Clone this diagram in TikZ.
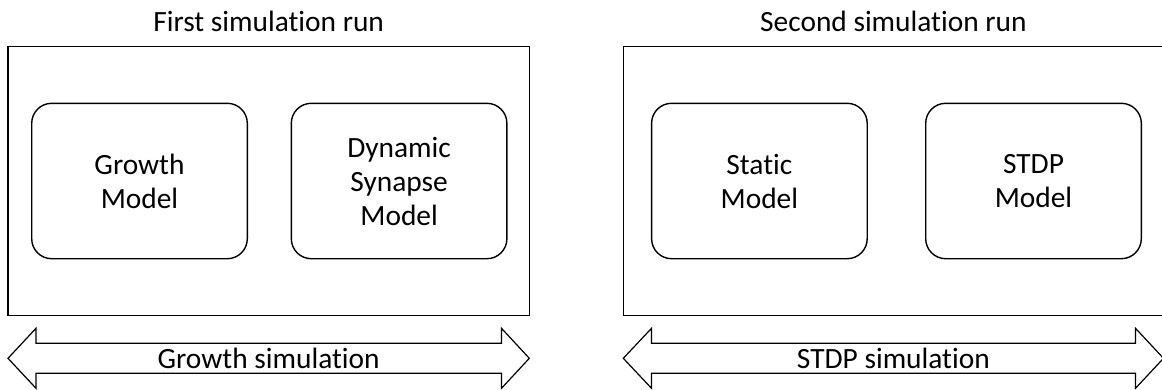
\documentclass[tikz,border=0pt]{standalone}
\usepackage{fontspec}
\setmainfont{Carlito}[Ligatures={NoCommon,NoContextual}]
\begin{document}
\begin{tikzpicture}[x=1pt,y=-1pt,
  every node/.style={font=\fontsize{29.4pt}{34pt}\selectfont, inner sep=0pt, outer sep=0pt},
  runframe/.style={draw, line width=1.1pt, rectangle},
  modelbox/.style={draw, line width=1.4pt, rounded corners=20pt, align=center,
                   minimum width=215.6pt, minimum height=155.4pt},
  spanarrow/.style={draw, line width=1.2pt, line join=miter},
  caption/.style={anchor=base}]
\useasboundingbox (0,0) rectangle (1162,389);

% simulation run frames
\node[runframe, minimum width=521.3pt, minimum height=268.6pt] (runA) at (268.65,181) {};
\node[runframe, minimum width=540.2pt, minimum height=268.6pt] (runB) at (893.4,181) {};

% titles above the frames
\node[caption] (titleA) at (268.65,31.7) {First simulation run};
\node[caption] (titleB) at (893.4,31.7) {Second simulation run};

% models of the first run
\node[modelbox] (growth)  at (139.5,181) {Growth\\Model};
\node[modelbox] (dynamic) at (399.1,181) {Dynamic\\Synapse\\Model};

% models of the second run
\node[modelbox] (static) at (759.4,181) {Static\\Model};
\node[modelbox] (stdp)   at (1033.5,181) {STDP\\Model};

% double-headed span arrows
\draw[spanarrow] (8,358.3) -- (36,328.3) -- (36,343.3) -- (501.5,343.3) -- (501.5,328.3)
  -- (529.3,358.3) -- (501.5,388.3) -- (501.5,373.3) -- (36,373.3) -- (36,388.3) -- cycle;
\node[caption] (spanA) at (268.65,368.3) {Growth simulation};

\draw[spanarrow] (623.3,358.3) -- (651.5,328.3) -- (651.5,343.3) -- (1135.5,343.3) -- (1135.5,328.3)
  -- (1163.5,358.3) -- (1135.5,388.3) -- (1135.5,373.3) -- (651.5,373.3) -- (651.5,388.3) -- cycle;
\node[caption] (spanB) at (893.4,368.3) {STDP simulation};
\end{tikzpicture}
\end{document}
